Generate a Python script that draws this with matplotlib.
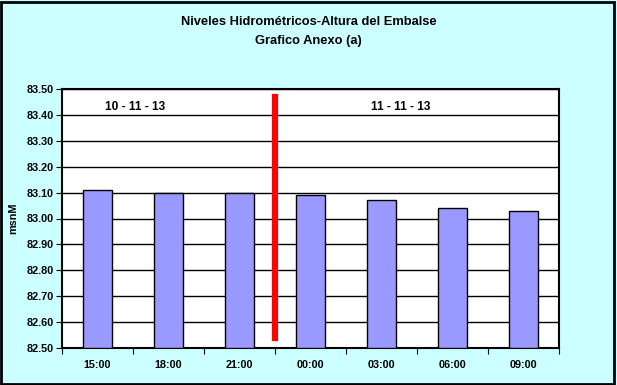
import matplotlib
matplotlib.use("Agg")
import matplotlib.pyplot as plt
from matplotlib.patches import Rectangle

plt.rcParams["font.family"] = ["Liberation Sans", "DejaVu Sans"]
plt.rcParams["font.weight"] = "bold"
plt.rcParams["axes.labelweight"] = "bold"

horas = ["15:00", "18:00", "21:00", "00:00", "03:00", "06:00", "09:00"]
niveles = [83.11, 83.10, 83.10, 83.09, 83.07, 83.04, 83.03]
dias = ["10 - 11 - 13", "11 - 11 - 13"]
yticks = [82.50, 82.60, 82.70, 82.80, 82.90, 83.00, 83.10, 83.20, 83.30, 83.40, 83.50]

fig = plt.figure(figsize=(6.17, 3.85), dpi=100, facecolor="#CCFFFF")
ax = fig.add_axes([62 / 617, 1 - 348 / 385, 497 / 617, 259 / 385])

x = range(len(horas))
ax.bar(x, [v - 82.5 for v in niveles], bottom=82.5, width=0.41,
       color="#9999FF", edgecolor="black", linewidth=1, zorder=3)

ax.set_xlim(-0.5, len(horas) - 0.5)
ax.set_ylim(82.5, 83.5)
ax.set_yticks(yticks)
ax.set_yticklabels([f"{v:.2f}" for v in yticks], fontsize=7.8)
ax.set_xticks([i - 0.5 for i in range(len(horas) + 1)])
ax.set_xticklabels([])
ax.set_xticks(list(x), minor=True)
ax.set_xticklabels(horas, minor=True, fontsize=7.8)
ax.tick_params(axis="x", which="minor", length=0, pad=9)
ax.tick_params(axis="x", which="major", length=4, direction="out")
ax.tick_params(axis="y", length=4, direction="out", pad=2)
ax.grid(axis="y", color="black", linewidth=1, zorder=1)
for s in ax.spines.values():
    s.set_linewidth(1.5)

# separator between days
ax.plot([2.5, 2.5], [82.54, 83.47], color="red", linewidth=4.5, zorder=4)
ax.text(0.53, 83.43, dias[0], fontsize=8.6, ha="center", va="center", fontweight="bold")
ax.text(4.27, 83.43, dias[1], fontsize=8.6, ha="center", va="center", fontweight="bold")

ax.set_ylabel("msnM", fontsize=7.8, labelpad=6)
fig.text(0.5, 1 - 22 / 385, "Niveles Hidrométricos-Altura del Embalse",
         ha="center", va="center", fontsize=9.3, fontweight="bold")
fig.text(0.5, 1 - 41 / 385, "Grafico Anexo (a)",
         ha="center", va="center", fontsize=9.3, fontweight="bold")

fig.patches.append(Rectangle((0.002, 0.003), 0.993, 0.992, transform=fig.transFigure,
                             fill=False, edgecolor="black", linewidth=2))

fig.savefig("out.png", dpi=100, facecolor=fig.get_facecolor())
